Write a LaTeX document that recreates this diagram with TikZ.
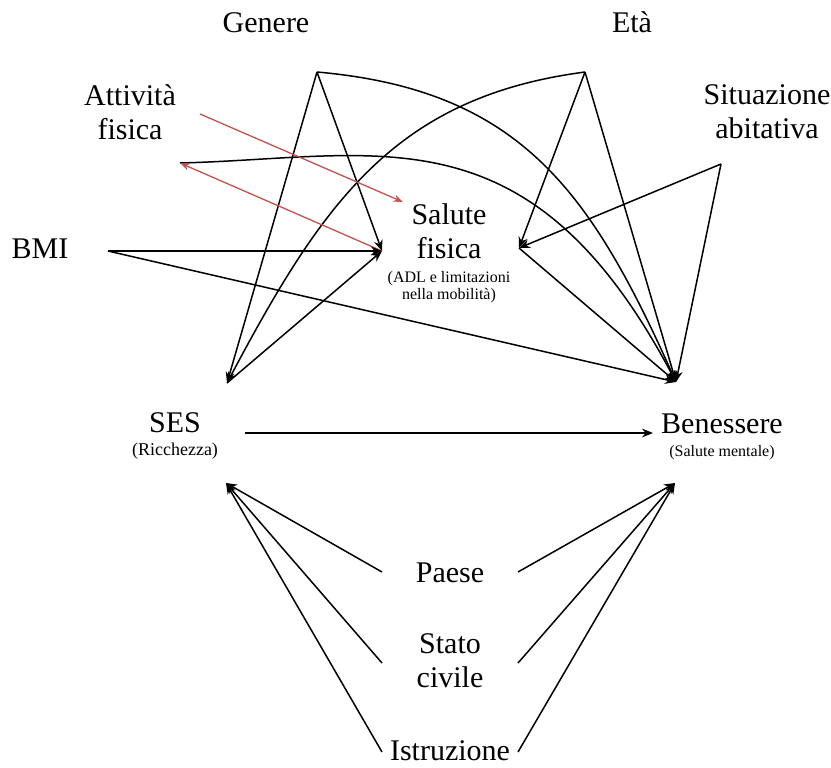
\documentclass[tikz,border=0pt]{standalone}
\usepackage{fontspec}
\setmainfont{Liberation Serif}
\usetikzlibrary{arrows.meta}
\definecolor{redline}{RGB}{196,82,76}

\begin{document}
\begin{tikzpicture}[x=0.5pt,y=-0.5pt,
    lbl/.style={font=\fontsize{15}{17}\selectfont,align=center,inner sep=0pt},
    note/.style={font=\fontsize{8}{8.4}\selectfont,align=center,inner sep=0pt},
    arr/.style={line width=0.75pt,-{Stealth[length=5.5pt,width=4.4pt]}},
    redarr/.style={line width=0.65pt,draw=redline,-{Stealth[length=4.8pt,width=3.6pt,fill=redline]}}]
    \useasboundingbox (0,0) rectangle (831,767);
    % variables
    \node[lbl,anchor=base] (genere) at (266,32) {Genere};
    \node[lbl,anchor=base] (eta) at (632,32) {Età};
    \node[lbl] (attivita) at (130,112) {Attività\\fisica};
    \node[lbl] (situazione) at (767,112) {Situazione\\abitativa};
    \node[lbl,anchor=base] (bmi) at (40,258) {BMI};
    \node[lbl] (salute) at (449,231) {Salute\\fisica};
    \node[note] (salutenote) at (449,287) {(ADL e limitazioni\\nella mobilità)};
    \node[lbl,anchor=base] (ses) at (175,432) {SES};
    \node[note,font=\fontsize{9}{10}\selectfont,anchor=base] (sesnote) at (175,455) {(Ricchezza)};
    \node[lbl,anchor=base] (benessere) at (722,433) {Benessere};
    \node[note,anchor=base] (benesserenote) at (722,456) {(Salute mentale)};
    \node[lbl,anchor=base] (paese) at (450,582) {Paese};
    \node[lbl] (stato) at (450,661) {Stato\\civile};
    \node[lbl,anchor=base] (istruzione) at (450,760) {Istruzione};
    % connection points
    \coordinate (gen) at (317,72);
    \coordinate (et) at (585,72);
    \coordinate (att) at (180,163);
    \coordinate (attr) at (200,114);
    \coordinate (sit) at (721,164);
    \coordinate (bm) at (108,251);
    \coordinate (sfl) at (382,251);
    \coordinate (sfr) at (519,248);
    \coordinate (sft) at (403,202);
    \coordinate (sest) at (227,383);
    \coordinate (sesb) at (226,483);
    \coordinate (sesr) at (245,433);
    \coordinate (bent) at (676,382);
    \coordinate (benb) at (675,483);
    \coordinate (benl) at (653,433);
    \coordinate (pl) at (382,572);
    \coordinate (pr) at (518,572);
    \coordinate (sl) at (382,663);
    \coordinate (sr) at (518,663);
    \coordinate (il) at (382,752);
    \coordinate (ir) at (518,752);
    % Genere and Eta
    \draw[arr] (gen) -- (sfl);
    \draw[arr] (gen) -- (sest);
    \draw[arr] (gen) .. controls +(204,18) and +(-85,-190) .. (bent);
    \draw[arr] (et) -- (sfr);
    \draw[arr] (et) -- (bent);
    \draw[arr] (et) .. controls +(-190,25) and +(96,-181) .. (sest);
    % Attivita fisica, Situazione abitativa, BMI
    \draw[arr] (att) .. controls +(200,-5) and +(-146,-277) .. (bent);
    \draw[redarr] (attr) -- (sft);
    \draw[redarr] (sfl) -- (att);
    \draw[arr] (sit) -- (sfr);
    \draw[arr] (sit) -- (bent);
    \draw[arr] (bm) -- (sfl);
    \draw[arr] (bm) -- (bent);
    % Salute fisica, SES, Benessere
    \draw[arr] (sest) -- (sfl);
    \draw[arr] (sfr) -- (bent);
    \draw[arr] (sesr) -- (benl);
    \foreach \p in {pl,sl,il}
    \draw[arr] (\p) -- (sesb);
    \foreach \p in {pr,sr,ir}
    \draw[arr] (\p) -- (benb);
\end{tikzpicture}
\end{document}
